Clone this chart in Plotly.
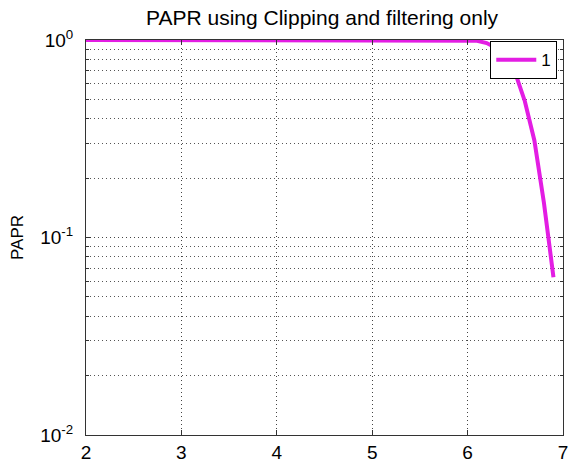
import plotly.graph_objects as go

# CCDF of PAPR after clipping and filtering
papr_db = [2.0, 6.0, 6.1, 6.2, 6.3, 6.4, 6.5, 6.6, 6.7, 6.8, 6.9]
ccdf = [1.0, 1.0, 0.99, 0.965, 0.91, 0.80, 0.68, 0.49, 0.31, 0.15, 0.063]

x_ticks = [2, 3, 4, 5, 6, 7]
y_major = [0.01, 0.1, 1.0]
y_major_text = ["10<sup>-2</sup>", "10<sup>-1</sup>", "10<sup>0</sup>"]
y_minor = [m * d for d in (0.01, 0.1) for m in range(2, 10)]

font = "Liberation Sans, Arial, sans-serif"
dots = "1px,3px"

fig = go.Figure()
fig.add_trace(go.Scatter(
    x=papr_db, y=ccdf, mode="lines", name="1",
    line=dict(color="#E31DE3", width=4),
))

fig.update_layout(
    width=568, height=462,
    margin=dict(l=86, r=5, t=40, b=27),
    paper_bgcolor="white", plot_bgcolor="white",
    font=dict(family=font, color="black", size=17),
    title=dict(text="PAPR using Clipping and filtering only", x=0.567, xanchor="center",
               y=0.962, yanchor="middle", font=dict(size=21)),
    showlegend=True,
    legend=dict(x=0.988, y=0.997, xanchor="right", yanchor="top",
                bordercolor="black", borderwidth=1, bgcolor="white",
                font=dict(size=17), itemwidth=40),
)

fig.update_xaxes(
    range=[2, 7], tickmode="array", tickvals=x_ticks, automargin=False,
    ticks="inside", ticklen=5, tickcolor="#333", ticklabelstandoff=0,
    ticklabeloverflow="allow",
    showline=True, linecolor="#333", linewidth=1, mirror="ticks",
    showgrid=True, gridcolor="#444", griddash=dots, gridwidth=1,
    zeroline=False, tickfont=dict(size=19),
)

fig.update_yaxes(
    type="log", range=[-2, 0], automargin=False,
    tickmode="array", tickvals=y_major, ticktext=y_major_text,
    ticks="inside", ticklen=5, tickcolor="#333", ticklabelstandoff=8,
    showline=True, linecolor="#333", linewidth=1, mirror="ticks",
    showgrid=True, gridcolor="#444", griddash=dots, gridwidth=1,
    minor=dict(tickmode="array", tickvals=y_minor, ticks="inside", ticklen=3,
               tickcolor="#333", showgrid=True, gridcolor="#555", griddash=dots),
    zeroline=False, tickfont=dict(size=19),
    title=dict(text="PAPR", font=dict(size=17), standoff=12),
)

fig.write_html("out.html")
